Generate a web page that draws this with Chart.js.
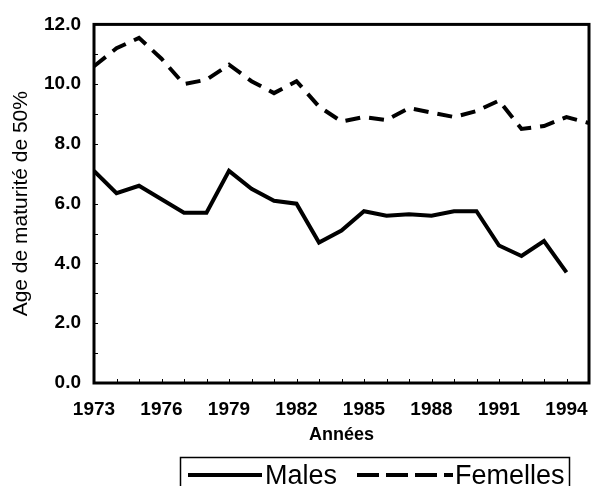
<!DOCTYPE html>
<html>
<head>
<meta charset="utf-8">
<script src="https://cdn.jsdelivr.net/npm/chart.js@4.4.0/dist/chart.umd.min.js"></script>
<style>
  html, body { margin: 0; padding: 0; background: #fff; }
  #wrap { width: 591px; height: 486px; }
</style>
</head>
<body>
<div id="wrap"><canvas id="myChart" width="591" height="486"></canvas></div>
<script>
const years = [1973, 1974, 1975, 1976, 1977, 1978, 1979, 1980, 1981, 1982, 1983, 1984,
  1985, 1986, 1987, 1988, 1989, 1990, 1991, 1992, 1993, 1994, 1995];
const males = [7.1, 6.35, 6.6, 6.15, 5.7, 5.7, 7.1, 6.5, 6.1, 6.0, 4.7, 5.1,
  5.75, 5.6, 5.65, 5.6, 5.75, 5.75, 4.6, 4.25, 4.75, 3.7];
const femelles = [10.6, 11.2, 11.55, 10.85, 10.0, 10.15, 10.65, 10.1, 9.7, 10.1, 9.25, 8.75,
  8.9, 8.8, 9.2, 9.05, 8.9, 9.1, 9.45, 8.5, 8.6, 8.9, 8.7];
const yearTicks = [1973, 1976, 1979, 1982, 1985, 1988, 1991, 1994];
const ageTicks = [0, 2, 4, 6, 8, 10, 12];
const seriesNames = ['Males', 'Femelles'];

const FONT = '"Liberation Sans", Arial, Helvetica, sans-serif';

function toPoints(values) {
  return values.map((v, i) => ({ x: years[i], y: v }));
}

// frame round the plot + small inward ticks
const framePlugin = {
  id: 'frame',
  afterDatasetsDraw(chart) {
    const { ctx, chartArea: a, scales: { x, y } } = chart;
    ctx.save();
    ctx.strokeStyle = '#000';
    ctx.lineWidth = 1;
    ctx.beginPath();
    years.forEach(yr => {
      const px = Math.round(x.getPixelForValue(yr)) + 0.5;
      ctx.moveTo(px, a.bottom);
      ctx.lineTo(px, a.bottom - 4);
    });
    for (let v = 0; v <= 12; v++) {
      const py = Math.round(y.getPixelForValue(v)) + 0.5;
      ctx.moveTo(a.left, py);
      ctx.lineTo(a.left + 4, py);
    }
    ctx.stroke();
    ctx.lineWidth = 3;
    ctx.strokeRect(a.left, a.top, a.right - a.left, a.bottom - a.top);
    ctx.restore();
  }
};

// boxed legend under the axis title
const legendPlugin = {
  id: 'boxLegend',
  afterDraw(chart) {
    const ctx = chart.ctx;
    const items = [
      { x0: 188, x1: 262, tx: 265, dash: [] },
      { x0: 357, x1: 453, tx: 455, dash: [22, 7] }
    ];
    ctx.save();
    ctx.strokeStyle = '#000';
    ctx.lineWidth = 1.5;
    ctx.strokeRect(180.5, 457.5, 389, 40);
    ctx.font = '27px ' + FONT;
    ctx.fillStyle = '#000';
    ctx.textBaseline = 'alphabetic';
    chart.data.datasets.forEach((d, i) => {
      const it = items[i];
      ctx.lineWidth = 4;
      ctx.setLineDash(it.dash);
      ctx.beginPath();
      ctx.moveTo(it.x0, 475);
      ctx.lineTo(it.x1, 475);
      ctx.stroke();
      ctx.setLineDash([]);
      ctx.fillText(d.label, it.tx, 484);
    });
    ctx.restore();
  }
};

new Chart(document.getElementById('myChart'), {
  type: 'line',
  data: {
    datasets: [
      {
        label: seriesNames[0],
        data: toPoints(males),
        borderColor: '#000',
        borderWidth: 4,
        pointRadius: 0,
        tension: 0,
        fill: false
      },
      {
        label: seriesNames[1],
        data: toPoints(femelles),
        borderColor: '#000',
        borderWidth: 4,
        borderDash: [15, 9],
        pointRadius: 0,
        tension: 0,
        fill: false
      }
    ]
  },
  options: {
    responsive: false,
    animation: false,
    layout: { padding: { top: 20, right: 2, left: 0, bottom: 0 } },
    plugins: {
      legend: { display: false },
      tooltip: { enabled: false }
    },
    scales: {
      x: {
        type: 'linear',
        min: 1973,
        max: 1995,
        afterBuildTicks: s => { s.ticks = yearTicks.map(v => ({ value: v })); },
        afterFit: s => {
          s.height = 103;
          s.paddingLeft = 0;
          s.paddingRight = 0;
        },
        grid: { display: false, drawTicks: false },
        border: { display: false },
        ticks: {
          color: '#000',
          font: { family: FONT, size: 19, weight: 'bold' },
          padding: 15,
          maxRotation: 0,
          autoSkip: false,
          callback: v => String(v)
        },
        title: {
          display: true,
          text: 'Années',
          color: '#000',
          font: { family: FONT, size: 18, weight: 'bold' },
          padding: { top: 0, bottom: 40 }
        }
      },
      y: {
        min: 0,
        max: 12,
        afterBuildTicks: s => { s.ticks = ageTicks.map(v => ({ value: v })); },
        afterFit: s => { s.width = 94; },
        grid: { display: false, drawTicks: false },
        border: { display: false },
        ticks: {
          color: '#000',
          font: { family: FONT, size: 19, weight: 'bold' },
          padding: 13,
          callback: v => v.toFixed(1)
        },
        title: {
          display: true,
          text: 'Age de maturité de 50%',
          color: '#000',
          font: { family: FONT, size: 21 },
          padding: { top: 9, bottom: 0 }
        }
      }
    }
  },
  plugins: [framePlugin, legendPlugin]
});
</script>
</body>
</html>
